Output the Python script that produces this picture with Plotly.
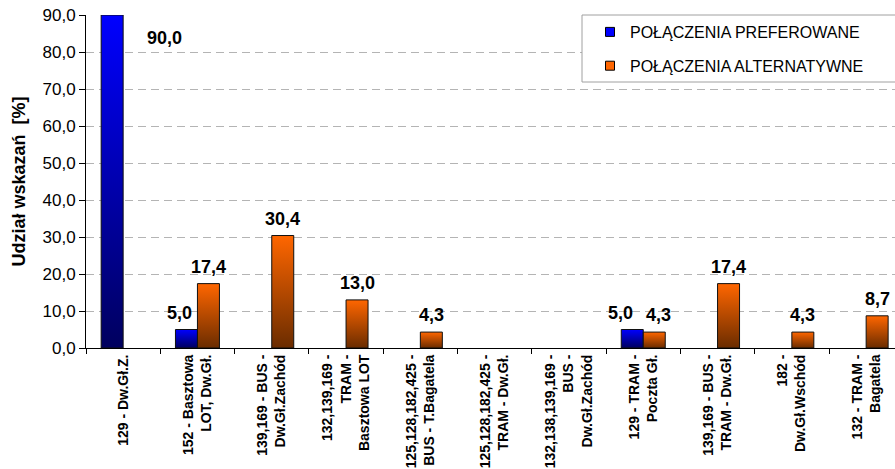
import plotly.graph_objects as go

# Route labels (one per category on the x axis)
categories = [
    "129 - Dw.Gł.Z.",
    "152 - Basztowa<br>LOT, Dw.Gł.",
    "139,169 - BUS -<br>Dw.Gł.Zachód",
    "132,139,169 -<br>TRAM -<br>Basztowa LOT",
    "125,128,182,425 -<br>BUS - T.Bagatela",
    "125,128,182,425 -<br>TRAM - Dw.Gł.",
    "132,138,139,169 -<br>BUS -<br>Dw.Gł.Zachód",
    "129 - TRAM -<br>Poczta Gł.",
    "139,169 - BUS -<br>TRAM - Dw.Gł.",
    "182 -<br>Dw.Gł.Wschód",
    "132 - TRAM -<br>Bagatela",
]

# Share of responses [%]; None = no bar for that route
preferred = [90.0, 5.0, None, None, None, None, None, 5.0, None, None, None]
alternative = [None, 17.4, 30.4, 13.0, 4.3, None, None, 4.3, 17.4, 4.3, 8.7]

series_names = ["POŁĄCZENIA PREFEROWANE", "POŁĄCZENIA ALTERNATYWNE"]
y_ticks = [0, 10, 20, 30, 40, 50, 60, 70, 80, 90]

FONT = "Liberation Sans, Arial, sans-serif"
BAR_W = 0.296          # bar width in category units
Y_MAX = 90

series = [
    dict(name=series_names[0], values=preferred, offset=-BAR_W, group="pref",
         top="#0000FF", bottom="#00005E", legend="#0000FF", nudge=-7),
    dict(name=series_names[1], values=alternative, offset=0.0, group="alt",
         top="#FF6600", bottom="#6A2C00", legend="#FF6600", nudge=0),
]
# extra horizontal label nudges (px) where two labels sit side by side
label_nudge = {("pref", 7): -12, ("alt", 7): 4}


def fmt(v):
    return f"{v:.1f}".replace(".", ",")


LABEL_FONT = dict(family=FONT, size=18, color="#000000", weight="bold")

fig = go.Figure()
annotations = []

for s in series:
    for i, v in enumerate(s["values"]):
        if v is None:
            continue
        x0 = i + s["offset"]
        x1 = x0 + BAR_W
        # each bar is a filled rectangle with a vertical dark-to-bright gradient
        fig.add_trace(go.Scatter(
            x=[x0, x0, x1, x1, x0],
            y=[0, v, v, 0, 0],
            mode="lines",
            fill="toself",
            fillgradient=dict(type="vertical",
                              colorscale=[[0, s["bottom"]], [1, s["top"]]]),
            line=dict(color="#101010", width=1),
            showlegend=False,
            hoverinfo="skip",
        ))
        xc = (x0 + x1) / 2
        if v >= Y_MAX:
            # label for a bar that reaches the top of the axis sits beside it
            annotations.append(dict(
                x=xc, y=v, xref="x", yref="y", text=fmt(v), showarrow=False,
                xanchor="center", yanchor="middle", xshift=52, yshift=-23,
                font=LABEL_FONT,
            ))
        else:
            annotations.append(dict(
                x=xc, y=v, xref="x", yref="y", text=fmt(v), showarrow=False,
                xanchor="center", yanchor="bottom", yshift=5,
                xshift=label_nudge.get((s["group"], i), s["nudge"]),
                font=LABEL_FONT,
            ))

# legend entries
for s in series:
    fig.add_trace(go.Scatter(
        x=[None], y=[None], mode="markers", name=s["name"],
        legendgroup=s["group"],
        marker=dict(symbol="square", size=9, color=s["legend"],
                    line=dict(color="#000000", width=1)),
    ))

n = len(categories)
fig.update_layout(
    width=895, height=469,
    margin=dict(l=86, r=0, t=15, b=121),
    paper_bgcolor="#FFFFFF", plot_bgcolor="#FFFFFF",
    separators=", ",
    font=dict(family=FONT, color="#000000"),
    showlegend=True,
    legend=dict(
        x=(590 - 86) / 809, xanchor="left", y=1.0, yanchor="top",
        bgcolor="rgba(0,0,0,0)", borderwidth=0,
        font=dict(family=FONT, size=16, color="#000000"),
        itemsizing="trace", tracegroupgap=10,
    ),
    annotations=annotations,
    shapes=[dict(
        type="rect", xref="paper", yref="paper",
        x0=(582 - 86) / 809, x1=1.05, y0=(348 - 82) / 333, y1=1.0,
        fillcolor="#FFFFFF", line=dict(color="#A0A0A0", width=1), layer="above",
    )],
)

fig.update_xaxes(
    range=[-0.5, -0.5 + 809 / 74.3],
    tickmode="array",
    tickvals=list(range(n)),
    ticktext=[f"<b>{c}</b>" for c in categories],
    tickangle=-90,
    ticks="",
    tickfont=dict(family=FONT, size=14, color="#000000"),
    showline=True, linecolor="#000000", linewidth=1,
    showgrid=False, zeroline=False,
    minor=dict(tickmode="array", tickvals=[i - 0.5 for i in range(n + 1)],
               ticks="outside", ticklen=5, tickcolor="#000000", showgrid=False),
)

fig.update_yaxes(
    range=[0, Y_MAX],
    tickmode="array", tickvals=y_ticks, tickformat=".1f",
    ticks="outside", ticklen=6, tickcolor="#000000",
    tickfont=dict(family=FONT, size=17, color="#000000"),
    showline=True, linecolor="#000000", linewidth=1,
    showgrid=True, gridcolor="#B4B4B4", griddash="8px,5px", gridwidth=1,
    zeroline=False,
    title=dict(text="<b>Udział wskazań\u00a0\u00a0[%]</b>",
               font=dict(family=FONT, size=18, color="#000000"), standoff=12),
)

fig.write_html("out.html")
